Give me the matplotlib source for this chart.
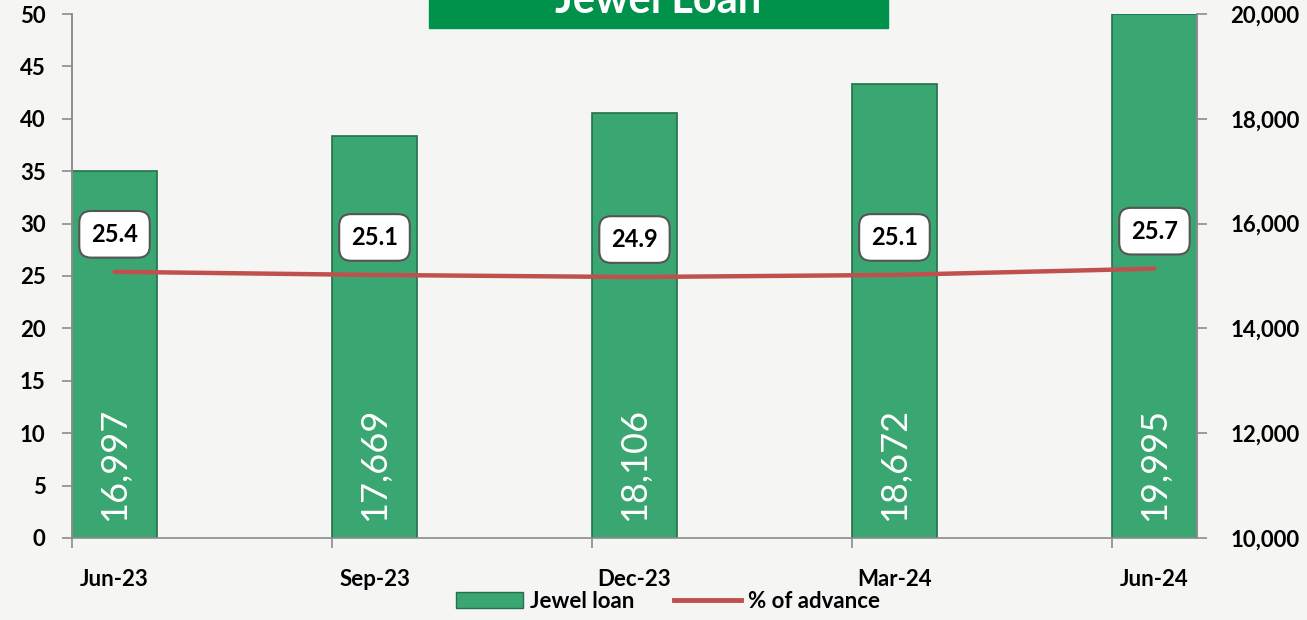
import numpy as np
import matplotlib.pyplot as plt
from matplotlib.patches import Rectangle, Patch
from matplotlib.lines import Line2D

plt.rcParams['font.family'] = ['Lato', 'DejaVu Sans']
plt.rcParams['font.weight'] = 'bold'

quarters = ["Jun-23", "Sep-23", "Dec-23", "Mar-24", "Jun-24"]
jewel_loan = [16997, 17669, 18106, 18672, 19995]
pct_advance = [25.4, 25.1, 24.9, 25.1, 25.7]

bar_green = '#3aa671'
line_red = '#c0504d'
axis_grey = '#8c8c8c'
bg = '#f5f5f4'

fig = plt.figure(figsize=(13.07, 6.2), dpi=100, facecolor=bg)
ax1 = fig.add_axes([0.0551, 0.1323, 0.8607, 0.8451])
ax2 = ax1.twinx()

x = np.arange(len(quarters))
w = 0.327

# bars on the right axis
bars = ax2.bar(x, jewel_loan, width=w, color=bar_green, edgecolor='#23704a', linewidth=1.2, zorder=2)
ax2.set_ylim(10000, 20000)
ax2.set_yticks(np.arange(10000, 20001, 2000))
ax2.set_yticklabels([f"{v:,}" for v in range(10000, 20001, 2000)])
for xi, v in zip(x, jewel_loan):
    ax2.annotate(f"{v:,}", (xi, 10000), xytext=(0, 12), textcoords='offset points',
                 rotation=90, ha='center', va='bottom', color='white', fontsize=26,
                 fontweight='normal')

# % of advance line on the left axis
ax1.plot(x, pct_advance, color=line_red, linewidth=3.2, solid_capstyle='round', zorder=3)
ax1.set_ylim(0, 50)
ax1.set_yticks(np.arange(0, 51, 5))
for xi, v in zip(x, pct_advance):
    ax1.annotate(f"{v}", (xi, v), xytext=(0, 27), textcoords='offset points',
                 ha='center', va='center', fontsize=17, fontweight='bold', color='black',
                 bbox=dict(boxstyle='round,pad=0.5,rounding_size=0.5', fc='white', ec='#555555', lw=1.5),
                 zorder=5)

ax1.set_zorder(ax2.get_zorder() + 1)
ax1.patch.set_visible(False)
ax1.set_xlim(-0.5 * w, len(quarters) - 1 + 0.5 * w)
ax2.set_xlim(ax1.get_xlim())

# ticks at bar edges, labels at bar centres
ax1.set_xticks(x - w / 2)
ax1.set_xticklabels([])
ax1.set_xticks(x, minor=True)
ax1.set_xticklabels(quarters, minor=True)
ax1.tick_params(axis='x', which='major', length=7, width=1.2, color=axis_grey, direction='out')
ax1.tick_params(axis='x', which='minor', length=0, pad=22, labelsize=16)

ax1.tick_params(axis='y', length=7, width=1.2, color=axis_grey, pad=12, labelsize=16)
ax2.tick_params(axis='y', length=7, width=1.2, color=axis_grey, pad=17, labelsize=16)

for a in (ax1, ax2):
    a.spines['top'].set_visible(False)
    for s in ('left', 'right', 'bottom'):
        a.spines[s].set_color(axis_grey)
        a.spines[s].set_linewidth(1.2)
ax2.spines['bottom'].set_visible(False)

# title banner (cut at the top edge as in the source)
fig.patches.append(Rectangle((429 / 1307, 1 - 28 / 620), (888 - 429) / 1307, 28 / 620,
                             transform=fig.transFigure, color='#00914a', zorder=0))
fig.text(658 / 1307, 1 - 13 / 620, "Jewel Loan", ha='center', va='baseline',
         color='white', fontsize=30, fontweight='bold')

handles = [Patch(facecolor=bar_green, edgecolor='#23704a', label='Jewel loan'),
           Line2D([0], [0], color=line_red, lw=3.5, label='% of advance')]
fig.legend(handles=handles, loc='center', bbox_to_anchor=(668 / 1307, 1 - 601 / 620), ncol=2,
           frameon=False, prop={'size': 16, 'weight': 'bold'}, handlelength=3.0,
           handletextpad=0.3, columnspacing=1.8)

plt.savefig("out.png", dpi=100, facecolor=bg)
